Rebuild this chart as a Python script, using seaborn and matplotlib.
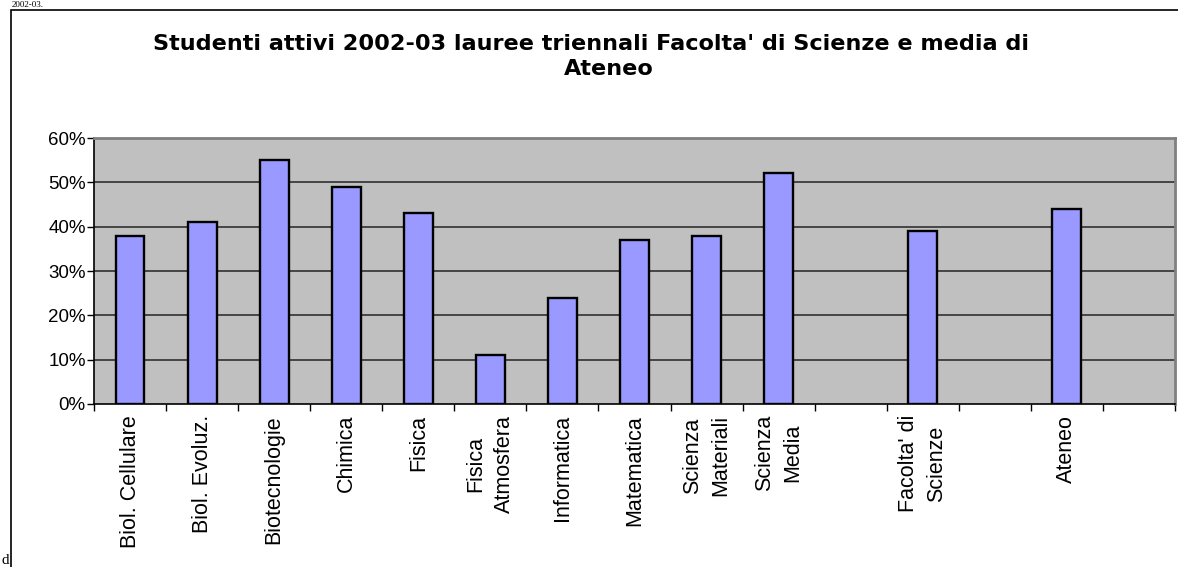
import matplotlib
matplotlib.use("Agg")
import matplotlib.pyplot as plt
import matplotlib.patches as mpatches
from matplotlib.ticker import PercentFormatter, FixedLocator
import seaborn as sns
import pandas as pd

# ---- data ----
categories = ["Biol. Cellulare", "Biol. Evoluz.", "Biotecnologie", "Chimica", "Fisica",
              "Fisica Atmosfera", "Informatica", "Matematica", "Scienza Materiali",
              "Scienza Media", "Facolta' di Scienze", "Ateneo"]
values = [0.38, 0.41, 0.55, 0.49, 0.43, 0.11, 0.24, 0.37, 0.38, 0.52, 0.39, 0.44]
slot_order = ["Biol. Cellulare", "Biol. Evoluz.", "Biotecnologie", "Chimica", "Fisica",
              "Fisica Atmosfera", "Informatica", "Matematica", "Scienza Materiali",
              "Scienza Media", "_gap1", "Facolta' di Scienze", "_gap2", "Ateneo", "_gap3"]
tick_labels = ["Biol. Cellulare", "Biol. Evoluz.", "Biotecnologie", "Chimica", "Fisica",
               "Fisica\nAtmosfera", "Informatica", "Matematica", "Scienza\nMateriali",
               "Scienza\nMedia", "", "Facolta' di\nScienze", "", "Ateneo", ""]
y_ticks = [0.0, 0.1, 0.2, 0.3, 0.4, 0.5, 0.6]
title_line1 = "Studenti attivi 2002-03 lauree triennali Facolta' di Scienze e media di"
title_line2 = "Ateneo"

df = pd.DataFrame({"corso": categories, "quota": values})

sns.set_theme(style="white")
plt.rcParams["font.family"] = ["Liberation Sans", "DejaVu Sans"]
plt.rcParams["text.color"] = "black"
plt.rcParams["xtick.color"] = "black"
plt.rcParams["ytick.color"] = "black"
plt.rcParams["axes.labelcolor"] = "black"

W, H = 1178, 567
fig = plt.figure(figsize=(W / 100, H / 100), dpi=100)
fig.patch.set_facecolor("white")

left, right, top, bottom = 94, 1175, 138, 404
ax = fig.add_axes([left / W, (H - bottom) / H, (right - left) / W, (bottom - top) / H])
ax.set_facecolor("#C0C0C0")

sns.barplot(data=df, x="corso", y="quota", order=slot_order, color="#9999FF",
            saturation=1, width=0.4, edgecolor="black", linewidth=1.7, ax=ax, zorder=3)

ax.set_xlim(-0.5, len(slot_order) - 0.5)
ax.set_ylim(0, 0.6)
ax.set_yticks(y_ticks)
ax.yaxis.set_major_formatter(PercentFormatter(1.0, decimals=0))
for yv in y_ticks[1:-1]:
    ax.axhline(yv, color="#303030", linewidth=1.2, zorder=1)

ax.set_xticks(range(len(slot_order)))
ax.set_xticklabels(tick_labels, rotation=90, ha="center", va="top",
                   multialignment="center", fontsize=15.5, linespacing=1.47)
ax.xaxis.set_minor_locator(FixedLocator([i - 0.5 for i in range(len(slot_order) + 1)]))
ax.tick_params(axis="x", which="major", length=0, pad=8)
ax.tick_params(axis="x", which="minor", length=5, width=1, color="black", direction="out",
               bottom=True)
ax.tick_params(axis="y", which="major", length=5, width=1, color="black", direction="out",
               left=True, labelsize=13.5, pad=1)
ax.set_xlabel("")
ax.set_ylabel("")

for side in ["left", "bottom"]:
    ax.spines[side].set_color("black")
    ax.spines[side].set_linewidth(1.2)
for side in ["top", "right"]:
    ax.spines[side].set_color("#808080")
    ax.spines[side].set_linewidth(2)

fig.text(591 / W, 1 - 50 / H, title_line1, ha="center", va="baseline", fontsize=16.1,
         fontweight="bold", family="DejaVu Sans", color="black")
fig.text(609 / W, 1 - 75 / H, title_line2, ha="center", va="baseline", fontsize=16.1,
         fontweight="bold", family="DejaVu Sans", color="black")

# outer chart frame
fig.add_artist(mpatches.Rectangle((11 / W, -0.01), 1.0, 1 - 10 / H + 0.01,
                                  transform=fig.transFigure, fill=False,
                                  edgecolor="black", linewidth=1.2))
# page fragments visible around the chart
fig.text(1 / W, 1 - 564 / H, "d", ha="left", va="baseline", fontsize=11,
         family="Liberation Serif", color="black")
fig.text(12 / W, 1 - 7 / H, "2002-03.", ha="left", va="baseline", fontsize=6.5,
         family="Liberation Serif", color="black")

fig.savefig("out.png", dpi=100)
